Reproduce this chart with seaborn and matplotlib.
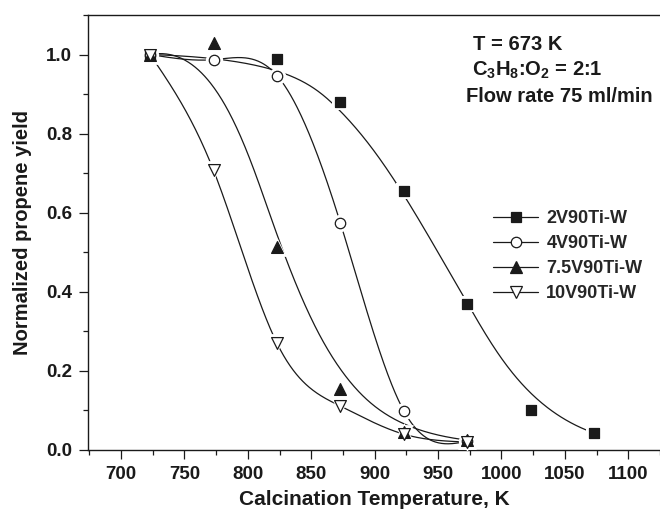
import numpy as np
import pandas as pd
import matplotlib
matplotlib.use("Agg")
import matplotlib.pyplot as plt
from matplotlib.lines import Line2D
from matplotlib.ticker import MultipleLocator, FormatStrFormatter
import seaborn as sns

# ---- data ----
series_names = ["2V90Ti-W", "4V90Ti-W", "7.5V90Ti-W", "10V90Ti-W"]
temp_2v = [723, 823, 873, 923, 973, 1023, 1073]
yield_2v = [1.00, 0.99, 0.88, 0.655, 0.368, 0.100, 0.043]
temp_4v = [723, 773, 823, 873, 923, 973]
yield_4v = [1.00, 0.987, 0.947, 0.574, 0.099, 0.022]
temp_75v = [723, 773, 823, 873, 923, 973]
yield_75v = [1.00, 1.03, 0.513, 0.154, 0.045, 0.025]
temp_10v = [723, 773, 823, 873, 923, 973]
yield_10v = [1.00, 0.707, 0.270, 0.111, 0.040, 0.020]
x_ticks = [700, 750, 800, 850, 900, 950, 1000, 1050, 1100]
y_ticks = [0.0, 0.2, 0.4, 0.6, 0.8, 1.0]
notes = ["T = 673 K", r"C$_{\bf 3}$H$_{\bf 8}$:O$_{\bf 2}$ = 2:1", "Flow rate 75 ml/min"]


def bspline(xs, ys, n=400, k=3):
    P = np.column_stack([xs, ys]).astype(float)
    m = len(P)
    k = min(k, m - 1)
    inner = np.arange(1, m - k)
    knots = np.concatenate([np.zeros(k + 1), inner, np.full(k + 1, m - k)]).astype(float)
    t = np.linspace(0, m - k, n)
    t[-1] -= 1e-9
    N = np.zeros((n, len(knots) - 1))
    for i in range(len(knots) - 1):
        N[:, i] = ((t >= knots[i]) & (t < knots[i + 1])).astype(float)
    for d in range(1, k + 1):
        Nn = np.zeros((n, len(knots) - 1 - d))
        for i in range(len(knots) - 1 - d):
            a = knots[i + d] - knots[i]
            b = knots[i + d + 1] - knots[i + 1]
            term = np.zeros(n)
            if a > 0:
                term += (t - knots[i]) / a * N[:, i]
            if b > 0:
                term += (knots[i + d + 1] - t) / b * N[:, i + 1]
            Nn[:, i] = term
        N = Nn
    C = N @ P
    return C[:, 0], C[:, 1]


def natural_spline(xs, ys, n=400):
    x = np.asarray(xs, float)
    y = np.asarray(ys, float)
    m = len(x)
    h = np.diff(x)
    A = np.zeros((m, m))
    r = np.zeros(m)
    A[0, 0] = A[-1, -1] = 1
    for i in range(1, m - 1):
        A[i, i - 1] = h[i - 1]
        A[i, i] = 2 * (h[i - 1] + h[i])
        A[i, i + 1] = h[i]
        r[i] = 3 * ((y[i + 1] - y[i]) / h[i] - (y[i] - y[i - 1]) / h[i - 1])
    c = np.linalg.solve(A, r)
    b = (y[1:] - y[:-1]) / h - h * (2 * c[:-1] + c[1:]) / 3
    d = (c[1:] - c[:-1]) / (3 * h)
    xx = np.linspace(x[0], x[-1], n)
    idx = np.clip(np.searchsorted(x, xx) - 1, 0, m - 2)
    dx = xx - x[idx]
    yy = y[idx] + b[idx] * dx + c[idx] * dx ** 2 + d[idx] * dx ** 3
    return xx, yy


sns.set_theme(style="ticks")
plt.rcParams["font.family"] = ["Liberation Sans", "DejaVu Sans"]
plt.rcParams["font.weight"] = "bold"
plt.rcParams["mathtext.fontset"] = "custom"
plt.rcParams["mathtext.rm"] = "Liberation Sans:bold"
plt.rcParams["mathtext.bf"] = "Liberation Sans:bold"
plt.rcParams["mathtext.it"] = "Liberation Sans:bold"

W, H = 660, 514
fig = plt.figure(figsize=(W / 100, H / 100), dpi=100)
ax = fig.add_axes([88 / W, 64 / H, 572 / W, 435 / H])

ink = "#1a1a1a"
specs = [
    (temp_2v, yield_2v, "s", ink, 7.0, "bspline"),
    (temp_4v, yield_4v, "o", "white", 7.5, "interp"),
    (temp_75v, yield_75v, "^", ink, 8.5, "bspline"),
    (temp_10v, yield_10v, "v", "white", 8.5, "interp"),
]

handles = []
for name, (tx, ty, mk, fc, ms, kind) in zip(series_names, specs):
    if kind == "bspline":
        cx, cy = bspline(tx, ty)
    else:
        cx, cy = natural_spline(tx, ty)
    curve = pd.DataFrame({"T": cx, "Y": cy})
    sns.lineplot(data=curve, x="T", y="Y", sort=False, estimator=None, ax=ax,
                 color=ink, linewidth=0.9, zorder=2)
    pts = pd.DataFrame({"T": tx, "Y": ty})
    # white halo so the curve shows a gap around each symbol
    sns.scatterplot(data=pts, x="T", y="Y", marker=mk, s=(ms + 5) ** 2, color="white",
                    edgecolor="white", linewidth=0, ax=ax, zorder=3, legend=False)
    sns.scatterplot(data=pts, x="T", y="Y", marker=mk, s=ms ** 2, color=fc,
                    edgecolor=ink, linewidth=0.9, ax=ax, zorder=4, legend=False)
    handles.append(Line2D([0], [0], color=ink, linewidth=0.9, marker=mk, markersize=ms,
                          markerfacecolor=fc, markeredgecolor=ink, markeredgewidth=0.9))

ax.set_xlim(674, 1125)
ax.set_ylim(0, 1.1)
ax.set_xticks(x_ticks)
ax.set_yticks(y_ticks)
ax.yaxis.set_major_formatter(FormatStrFormatter("%.1f"))
ax.xaxis.set_minor_locator(MultipleLocator(25))
ax.yaxis.set_minor_locator(MultipleLocator(0.1))
ax.tick_params(which="major", direction="out", length=6.5, width=0.9, color=ink,
               labelsize=13.5, pad=5, labelcolor=ink)
ax.tick_params(which="minor", direction="out", length=3.5, width=0.9, color=ink)
for s in ["left", "bottom", "top"]:
    ax.spines[s].set_linewidth(1.0)
    ax.spines[s].set_color(ink)
ax.spines["right"].set_visible(False)
ax.set_xlabel("Calcination Temperature, K", fontsize=15, fontweight="bold", color=ink, labelpad=5)
ax.set_ylabel("Normalized propene yield", fontsize=14.5, fontweight="bold", color=ink, labelpad=10)

for txt, (px, py) in zip(notes, [(473, 45), (472, 70), (466, 96)]):
    fig.text(px / W, 1 - py / H, txt, fontsize=14.5, fontweight="bold", color=ink,
             ha="left", va="center")

ax.legend(handles, series_names, loc="upper left", bbox_to_anchor=(493 / W, 1 - 210 / H),
          bbox_transform=fig.transFigure, frameon=False, borderpad=0, borderaxespad=0,
          handlelength=2.5, handletextpad=0.45, labelspacing=0.45,
          prop={"size": 13, "weight": "bold"})

fig.savefig("out.png", dpi=100)
